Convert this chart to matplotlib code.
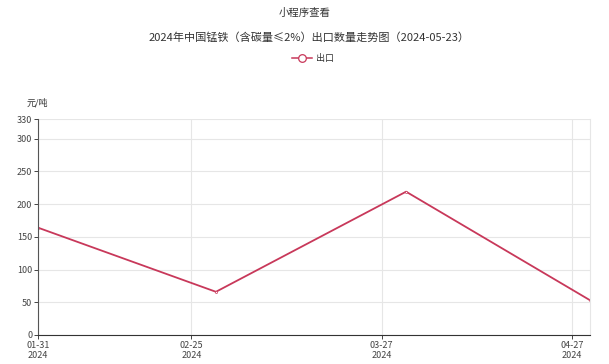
import pandas as pd
import matplotlib.pyplot as plt
import matplotlib.dates as mdates

plt.rcParams['font.family'] = ['Noto Sans CJK SC', 'DejaVu Sans']

dates = pd.to_datetime(['2024-01-31', '2024-02-29', '2024-03-31', '2024-04-30'])
values = [164, 66, 219, 53]

tick_dates = pd.to_datetime(['2024-01-31', '2024-02-25', '2024-03-27', '2024-04-27'])
y_ticks = [0, 50, 100, 150, 200, 250, 300, 330]

line_color = '#c8385a'

fig = plt.figure(figsize=(6.09, 3.64), dpi=100)
ax = fig.add_axes([0.0624, 0.0797, 0.9066, 0.5933])

ax.plot(dates, values, color=line_color, linewidth=1.3, marker='o', markersize=1.5,
        markerfacecolor='white', markeredgecolor=line_color, markeredgewidth=0.5)

ax.set_xlim(dates[0], dates[-1])
ax.set_ylim(0, 330)
ax.set_yticks(y_ticks)
ax.set_xticks(tick_dates)
ax.xaxis.set_major_formatter(mdates.DateFormatter('%m-%d\n%Y'))

ax.grid(True, color='#e6e6e6', linewidth=0.8)
ax.set_axisbelow(True)
ax.spines['top'].set_visible(False)
ax.spines['right'].set_color('#e6e6e6')
ax.spines['left'].set_color('#555555')
ax.spines['bottom'].set_color('#333333')
ax.tick_params(labelsize=6.5, colors='#444444', length=3, width=0.7, pad=1)

fig.text(0.5, 0.964, '小程序查看', ha='center', va='center', fontsize=7.5, color='#333333')
fig.text(0.508, 0.898, '2024年中国锰铁（含碳量≤2%）出口数量走势图（2024-05-23）',
         ha='center', va='center', fontsize=8, color='#333333')
fig.text(0.062, 0.717, '元/吨', ha='center', va='center', fontsize=6.5, color='#333333')

# legend
fig.lines.append(plt.Line2D([0.479, 0.513], [0.84, 0.84], transform=fig.transFigure,
                            color=line_color, linewidth=1.1))
fig.lines.append(plt.Line2D([0.496], [0.84], transform=fig.transFigure, color=line_color,
                            marker='o', markersize=5.5, markerfacecolor='white',
                            markeredgecolor=line_color, markeredgewidth=0.9))
fig.text(0.519, 0.84, '出口', ha='left', va='center', fontsize=6.5, color='#333333')

fig.savefig('out.png', dpi=100)
